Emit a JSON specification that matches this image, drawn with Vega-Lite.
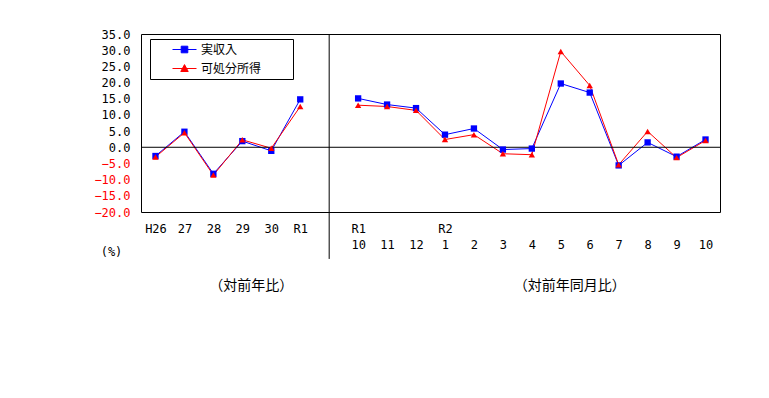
{
  "$schema": "https://vega.github.io/schema/vega-lite/v6.json",
  "width": 579,
  "height": 178,
  "autosize": {"type": "none"},
  "padding": {"left": 141, "top": 34, "right": 49, "bottom": 186},
  "background": "white",
  "config": {
    "view": {"stroke": "black", "strokeWidth": 1},
    "font": "Noto Sans CJK JP",
    "axisY": {"labelOverlap": false, "labelBound": false, "labelSeparation": 0}
  },
  "datasets": {
    "pts": [
      {"cat": "H26", "grp": "年", "series": "実収入", "value": -2.7},
      {"cat": "27", "grp": "年", "series": "実収入", "value": 4.8},
      {"cat": "28", "grp": "年", "series": "実収入", "value": -8.2},
      {"cat": "29", "grp": "年", "series": "実収入", "value": 1.9},
      {"cat": "30", "grp": "年", "series": "実収入", "value": -1.1},
      {"cat": "R1", "grp": "年", "series": "実収入", "value": 14.8},
      {"cat": "R1|10", "grp": "月", "series": "実収入", "value": 15.1},
      {"cat": "|11", "grp": "月", "series": "実収入", "value": 13.2},
      {"cat": "|12", "grp": "月", "series": "実収入", "value": 12.1},
      {"cat": "R2|1", "grp": "月", "series": "実収入", "value": 3.9},
      {"cat": "|2", "grp": "月", "series": "実収入", "value": 5.8},
      {"cat": "|3", "grp": "月", "series": "実収入", "value": -0.7},
      {"cat": "|4", "grp": "月", "series": "実収入", "value": -0.4},
      {"cat": "|5", "grp": "月", "series": "実収入", "value": 19.7},
      {"cat": "|6", "grp": "月", "series": "実収入", "value": 16.9},
      {"cat": "|7", "grp": "月", "series": "実収入", "value": -5.6},
      {"cat": "|8", "grp": "月", "series": "実収入", "value": 1.5},
      {"cat": "|9", "grp": "月", "series": "実収入", "value": -2.9},
      {"cat": "|10", "grp": "月", "series": "実収入", "value": 2.4},
      {"cat": "H26", "grp": "年", "series": "可処分所得", "value": -3.0},
      {"cat": "27", "grp": "年", "series": "可処分所得", "value": 4.5},
      {"cat": "28", "grp": "年", "series": "可処分所得", "value": -8.6},
      {"cat": "29", "grp": "年", "series": "可処分所得", "value": 2.3},
      {"cat": "30", "grp": "年", "series": "可処分所得", "value": -0.3},
      {"cat": "R1", "grp": "年", "series": "可処分所得", "value": 12.6},
      {"cat": "R1|10", "grp": "月", "series": "可処分所得", "value": 13.0},
      {"cat": "|11", "grp": "月", "series": "可処分所得", "value": 12.6},
      {"cat": "|12", "grp": "月", "series": "可処分所得", "value": 11.4},
      {"cat": "R2|1", "grp": "月", "series": "可処分所得", "value": 2.4},
      {"cat": "|2", "grp": "月", "series": "可処分所得", "value": 3.9},
      {"cat": "|3", "grp": "月", "series": "可処分所得", "value": -2.0},
      {"cat": "|4", "grp": "月", "series": "可処分所得", "value": -2.3},
      {"cat": "|5", "grp": "月", "series": "可処分所得", "value": 29.6},
      {"cat": "|6", "grp": "月", "series": "可処分所得", "value": 19.1},
      {"cat": "|7", "grp": "月", "series": "可処分所得", "value": -5.4},
      {"cat": "|8", "grp": "月", "series": "可処分所得", "value": 4.9},
      {"cat": "|9", "grp": "月", "series": "可処分所得", "value": -3.2},
      {"cat": "|10", "grp": "月", "series": "可処分所得", "value": 2.1}
    ],
    "divider": [{"cat": "sep"}],
    "notes": [
      {"cat": "29", "note": "（対前年比）"},
      {"cat": "|5", "note": "（対前年同月比）"}
    ]
  },
  "layer": [
    {
      "data": {"name": "pts"},
      "mark": {"type": "line", "strokeWidth": 1},
      "encoding": {
        "x": {
          "field": "cat",
          "type": "nominal",
          "scale": {
            "type": "point",
            "padding": 0.5,
            "domain": ["H26", "27", "28", "29", "30", "R1", "sep", "R1|10", "|11", "|12", "R2|1", "|2", "|3", "|4", "|5", "|6", "|7", "|8", "|9", "|10"]
          },
          "axis": {
            "title": null,
            "labelAngle": 0,
            "ticks": false,
            "domain": false,
            "grid": false,
            "labelPadding": 11,
            "labelFont": "DejaVu Sans Mono",
            "labelFontSize": 12,
            "labelColor": "black",
            "labelLineHeight": 16,
            "labelExpr": "datum.label == 'sep' ? '' : split(datum.label, '|')"
          }
        },
        "y": {
          "field": "value",
          "type": "quantitative",
          "scale": {"domain": [-20, 35], "nice": false, "zero": false},
          "axis": {
            "values": [-20, -15, -10, -5, 0, 5, 10, 15, 20, 25, 30, 35],
            "format": ".1f",
            "grid": false,
            "ticks": false,
            "domain": false,
            "labelOverlap": false,
            "labelPadding": 11,
            "labelFont": "DejaVu Sans Mono",
            "labelFontSize": 12,
            "labelColor": {"condition": {"test": "datum.value < 0", "value": "#ff0000"}, "value": "black"},
            "title": "(%)",
            "titleAngle": 0,
            "titleX": -30,
            "titleY": 217,
            "titleAlign": "center",
            "titleBaseline": "middle",
            "titleFont": "DejaVu Sans Mono",
            "titleFontSize": 12,
            "titleFontWeight": "normal",
            "titleColor": "black"
          }
        },
        "detail": {"field": "grp"},
        "color": {
          "field": "series",
          "type": "nominal",
          "scale": {"domain": ["実収入", "可処分所得"], "range": ["#0000ff", "#ff0000"]},
          "legend": {
            "title": null,
            "orient": "none",
            "legendX": 9,
            "legendY": 5,
            "padding": 4,
            "rowPadding": 6,
            "symbolSize": 144,
            "symbolOffset": 24,
            "labelOffset": 10,
            "strokeColor": "black",
            "fillColor": "white",
            "labelFont": "Noto Sans CJK JP",
            "labelFontSize": 12,
            "labelColor": "black",
            "labelExpr": "datum.label + '⠀⠀⠀'",
            "encode": {
              "symbols": {
                "update": {
                  "shape": {"signal": "datum.value == '実収入' ? 'M-2,0H2M-0.55,-0.55H0.55V0.55H-0.55Z' : 'M-2,0H2M0,-0.65L0.62,0.5H-0.62Z'"},
                  "fill": {"signal": "datum.value == '実収入' ? '#0000ff' : '#ff0000'"},
                  "stroke": {"signal": "datum.value == '実収入' ? '#0000ff' : '#ff0000'"},
                  "strokeWidth": {"value": 1},
                  "opacity": {"value": 1}
                }
              }
            }
          }
        }
      }
    },
    {
      "data": {"name": "divider"},
      "mark": {"type": "rule", "color": "black", "strokeWidth": 1},
      "encoding": {
        "x": {"field": "cat", "type": "nominal"},
        "y": {"datum": 35, "type": "quantitative", "axis": {"values": [-20, -15, -10, -5, 0, 5, 10, 15, 20, 25, 30, 35], "format": ".1f", "grid": false, "ticks": false, "domain": false, "labelOverlap": false, "labelPadding": 11, "labelFont": "DejaVu Sans Mono", "labelFontSize": 12, "labelColor": {"condition": {"test": "datum.value < 0", "value": "#ff0000"}, "value": "black"}, "title": "(%)", "titleAngle": 0, "titleX": -30, "titleY": 217, "titleAlign": "center", "titleBaseline": "middle", "titleFont": "DejaVu Sans Mono", "titleFontSize": 12, "titleFontWeight": "normal", "titleColor": "black"}},
        "y2": {"datum": -34.5}
      }
    },
    {
      "data": {"name": "divider"},
      "mark": {"type": "rule", "color": "black", "strokeWidth": 1},
      "encoding": {
        "y": {"datum": 0, "type": "quantitative", "axis": {"values": [-20, -15, -10, -5, 0, 5, 10, 15, 20, 25, 30, 35], "format": ".1f", "grid": false, "ticks": false, "domain": false, "labelOverlap": false, "labelPadding": 11, "labelFont": "DejaVu Sans Mono", "labelFontSize": 12, "labelColor": {"condition": {"test": "datum.value < 0", "value": "#ff0000"}, "value": "black"}, "title": "(%)", "titleAngle": 0, "titleX": -30, "titleY": 217, "titleAlign": "center", "titleBaseline": "middle", "titleFont": "DejaVu Sans Mono", "titleFontSize": 12, "titleFontWeight": "normal", "titleColor": "black"}}
      }
    },
    {
      "data": {"name": "pts"},
      "transform": [{"filter": "datum.series == '実収入'"}],
      "mark": {"type": "point", "filled": true, "size": 40, "opacity": 1, "shape": "square"},
      "encoding": {
        "x": {"field": "cat", "type": "nominal"},
        "y": {"field": "value", "type": "quantitative", "axis": {"values": [-20, -15, -10, -5, 0, 5, 10, 15, 20, 25, 30, 35], "format": ".1f", "grid": false, "ticks": false, "domain": false, "labelOverlap": false, "labelPadding": 11, "labelFont": "DejaVu Sans Mono", "labelFontSize": 12, "labelColor": {"condition": {"test": "datum.value < 0", "value": "#ff0000"}, "value": "black"}, "title": "(%)", "titleAngle": 0, "titleX": -30, "titleY": 217, "titleAlign": "center", "titleBaseline": "middle", "titleFont": "DejaVu Sans Mono", "titleFontSize": 12, "titleFontWeight": "normal", "titleColor": "black"}},
        "color": {"field": "series", "type": "nominal"}
      }
    },
    {
      "data": {"name": "pts"},
      "transform": [{"filter": "datum.series == '可処分所得'"}],
      "mark": {"type": "point", "filled": true, "size": 40, "opacity": 1, "shape": "triangle-up"},
      "encoding": {
        "x": {"field": "cat", "type": "nominal"},
        "y": {"field": "value", "type": "quantitative", "axis": {"values": [-20, -15, -10, -5, 0, 5, 10, 15, 20, 25, 30, 35], "format": ".1f", "grid": false, "ticks": false, "domain": false, "labelOverlap": false, "labelPadding": 11, "labelFont": "DejaVu Sans Mono", "labelFontSize": 12, "labelColor": {"condition": {"test": "datum.value < 0", "value": "#ff0000"}, "value": "black"}, "title": "(%)", "titleAngle": 0, "titleX": -30, "titleY": 217, "titleAlign": "center", "titleBaseline": "middle", "titleFont": "DejaVu Sans Mono", "titleFontSize": 12, "titleFontWeight": "normal", "titleColor": "black"}},
        "color": {"field": "series", "type": "nominal"}
      }
    },
    {
      "data": {"name": "notes"},
      "mark": {"type": "text", "font": "Noto Sans CJK JP", "fontSize": 14, "color": "black", "dx": 9},
      "encoding": {
        "x": {"field": "cat", "type": "nominal"},
        "y": {"datum": -43.0, "type": "quantitative", "axis": {"values": [-20, -15, -10, -5, 0, 5, 10, 15, 20, 25, 30, 35], "format": ".1f", "grid": false, "ticks": false, "domain": false, "labelOverlap": false, "labelPadding": 11, "labelFont": "DejaVu Sans Mono", "labelFontSize": 12, "labelColor": {"condition": {"test": "datum.value < 0", "value": "#ff0000"}, "value": "black"}, "title": "(%)", "titleAngle": 0, "titleX": -30, "titleY": 217, "titleAlign": "center", "titleBaseline": "middle", "titleFont": "DejaVu Sans Mono", "titleFontSize": 12, "titleFontWeight": "normal", "titleColor": "black"}},
        "text": {"field": "note"}
      }
    }
  ]
}
